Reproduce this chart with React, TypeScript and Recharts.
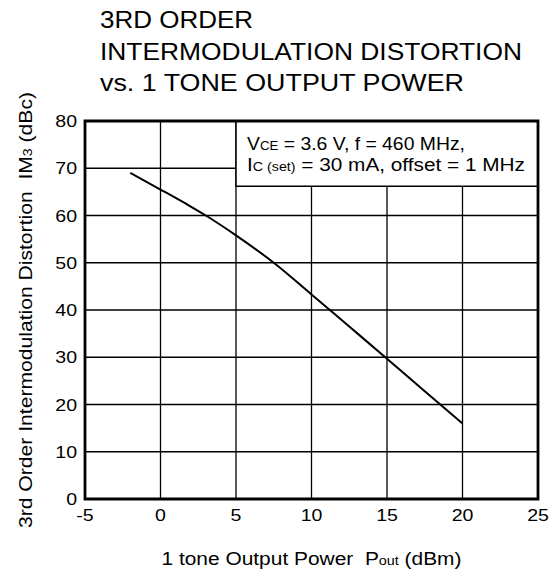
import React from 'react';
import { LineChart, Line, XAxis, YAxis, CartesianGrid, ReferenceArea, Label } from 'recharts';

// 1 tone output power (dBm) vs 3rd order IM distortion (dBc)
const power = [-2, 0, 2, 3, 5, 7.5, 10, 12.5, 15, 17.5, 20];
const im3 = [69, 65.5, 61.9, 60, 55.8, 50, 43.3, 36.5, 29.7, 22.8, 16];
const xTicks = [-5, 0, 5, 10, 15, 20, 25];
const yTicks = [0, 10, 20, 30, 40, 50, 60, 70, 80];
const titleLines = ['3RD ORDER', 'INTERMODULATION DISTORTION', 'vs. 1 TONE OUTPUT POWER'];

const chartData = power.map((p, i) => ({ power: p, im3: im3[i] }));

const FONT = '"Liberation Sans", Arial, Helvetica, sans-serif';
// the reference face runs wider than Liberation Sans, so stretch a bit
const STRETCH = 1.15;

const titleBase = [28, 59.5, 91];
const titleLen = [153, 422, 364];

const XTick = (props: any) => {
  const { x, y, payload } = props;
  return (
    <g transform={`translate(${x},${y}) scale(${STRETCH},1)`}>
      <text x={0} y={0} dy="0.72em" textAnchor="middle" fontFamily={FONT} fontSize={17} fill="#000">
        {payload.value}
      </text>
    </g>
  );
};

const YTick = (props: any) => {
  const { x, y, payload } = props;
  return (
    <g transform={`translate(${x},${y}) scale(${STRETCH},1)`}>
      <text x={0} y={0} dy="0.36em" textAnchor="end" fontFamily={FONT} fontSize={17} fill="#000">
        {payload.value}
      </text>
    </g>
  );
};

const NoteText = (props: any) => {
  const vb = props.viewBox || {};
  const x = vb.x + 11;
  const y = vb.y;
  return (
    <g fontFamily={FONT} fill="#000">
      <text x={x} y={y + 29} fontSize={17.5} textLength={218} lengthAdjust="spacingAndGlyphs">
        V<tspan fontSize={12}>CE</tspan> = 3.6 V, f = 460 MHz,
      </text>
      <text x={x} y={y + 50} fontSize={17.5} textLength={278} lengthAdjust="spacingAndGlyphs">
        I<tspan fontSize={12}>C (set)</tspan> = 30 mA, offset = 1 MHz
      </text>
    </g>
  );
};

const YTitle = (props: any) => {
  const vb = props.viewBox || {};
  const cy = vb.y + vb.height / 2;
  const cx = 32;
  return (
    <text
      x={cx}
      y={cy}
      transform={`rotate(-90 ${cx} ${cy})`}
      textAnchor="middle"
      fontFamily={FONT}
      fontSize={18}
      fill="#000"
      textLength={436}
      lengthAdjust="spacingAndGlyphs"
    >
      3rd Order Intermodulation Distortion{'\u00a0\u00a0'}IM<tspan fontSize={12}>3</tspan> (dBc)
    </text>
  );
};

const XTitle = (props: any) => {
  const vb = props.viewBox || {};
  const cx = vb.x + vb.width / 2;
  return (
    <text
      x={cx}
      y={565}
      textAnchor="middle"
      fontFamily={FONT}
      fontSize={17.5}
      fill="#000"
      textLength={300}
      lengthAdjust="spacingAndGlyphs"
    >
      1 tone Output Power{'\u00a0\u00a0'}P<tspan fontSize={12}>out</tspan> (dBm)
    </text>
  );
};

export default function App() {
  return (
    <div style={{ position: 'absolute', left: 0, top: 0, width: 555, height: 571, background: '#fff' }}>
      <LineChart
        width={555}
        height={571}
        data={chartData}
        margin={{ top: 121, right: 17, bottom: 42, left: 40 }}
        style={{ position: 'absolute', left: 0, top: 0 }}
      >
        <CartesianGrid stroke="#000" strokeWidth={1.3} horizontalValues={yTicks} verticalValues={xTicks} />
        <XAxis
          dataKey="power"
          type="number"
          domain={[-5, 25]}
          ticks={xTicks}
          interval={0}
          height={30}
          tickLine={false}
          axisLine={false}
          tickMargin={4}
          tick={<XTick />}
        >
          <Label content={<XTitle />} />
        </XAxis>
        <YAxis
          type="number"
          domain={[0, 80]}
          ticks={yTicks}
          interval={0}
          width={45}
          tickLine={false}
          axisLine={false}
          tick={<YTick />}
        >
          <Label content={<YTitle />} />
        </YAxis>
        <ReferenceArea
          x1={5}
          x2={25}
          y1={66.2}
          y2={80}
          fill="#fff"
          fillOpacity={1}
          stroke="#000"
          strokeWidth={1.5}
          ifOverflow="visible"
          label={<NoteText />}
        />
        <ReferenceArea
          x1={-5}
          x2={25}
          y1={0}
          y2={80}
          fill="none"
          stroke="#000"
          strokeWidth={2.8}
          ifOverflow="visible"
        />
        <Line
          type="monotone"
          dataKey="im3"
          stroke="#000"
          strokeWidth={2}
          dot={false}
          activeDot={false}
          isAnimationActive={false}
        />
      </LineChart>
      <svg width={555} height={110} style={{ position: 'absolute', left: 0, top: 0 }}>
        {titleLines.map((t, i) => (
          <text
            key={t}
            x={100}
            y={titleBase[i]}
            fontFamily={FONT}
            fontSize={24}
            fill="#000"
            textLength={titleLen[i]}
            lengthAdjust="spacingAndGlyphs"
          >
            {t}
          </text>
        ))}
      </svg>
    </div>
  );
}
